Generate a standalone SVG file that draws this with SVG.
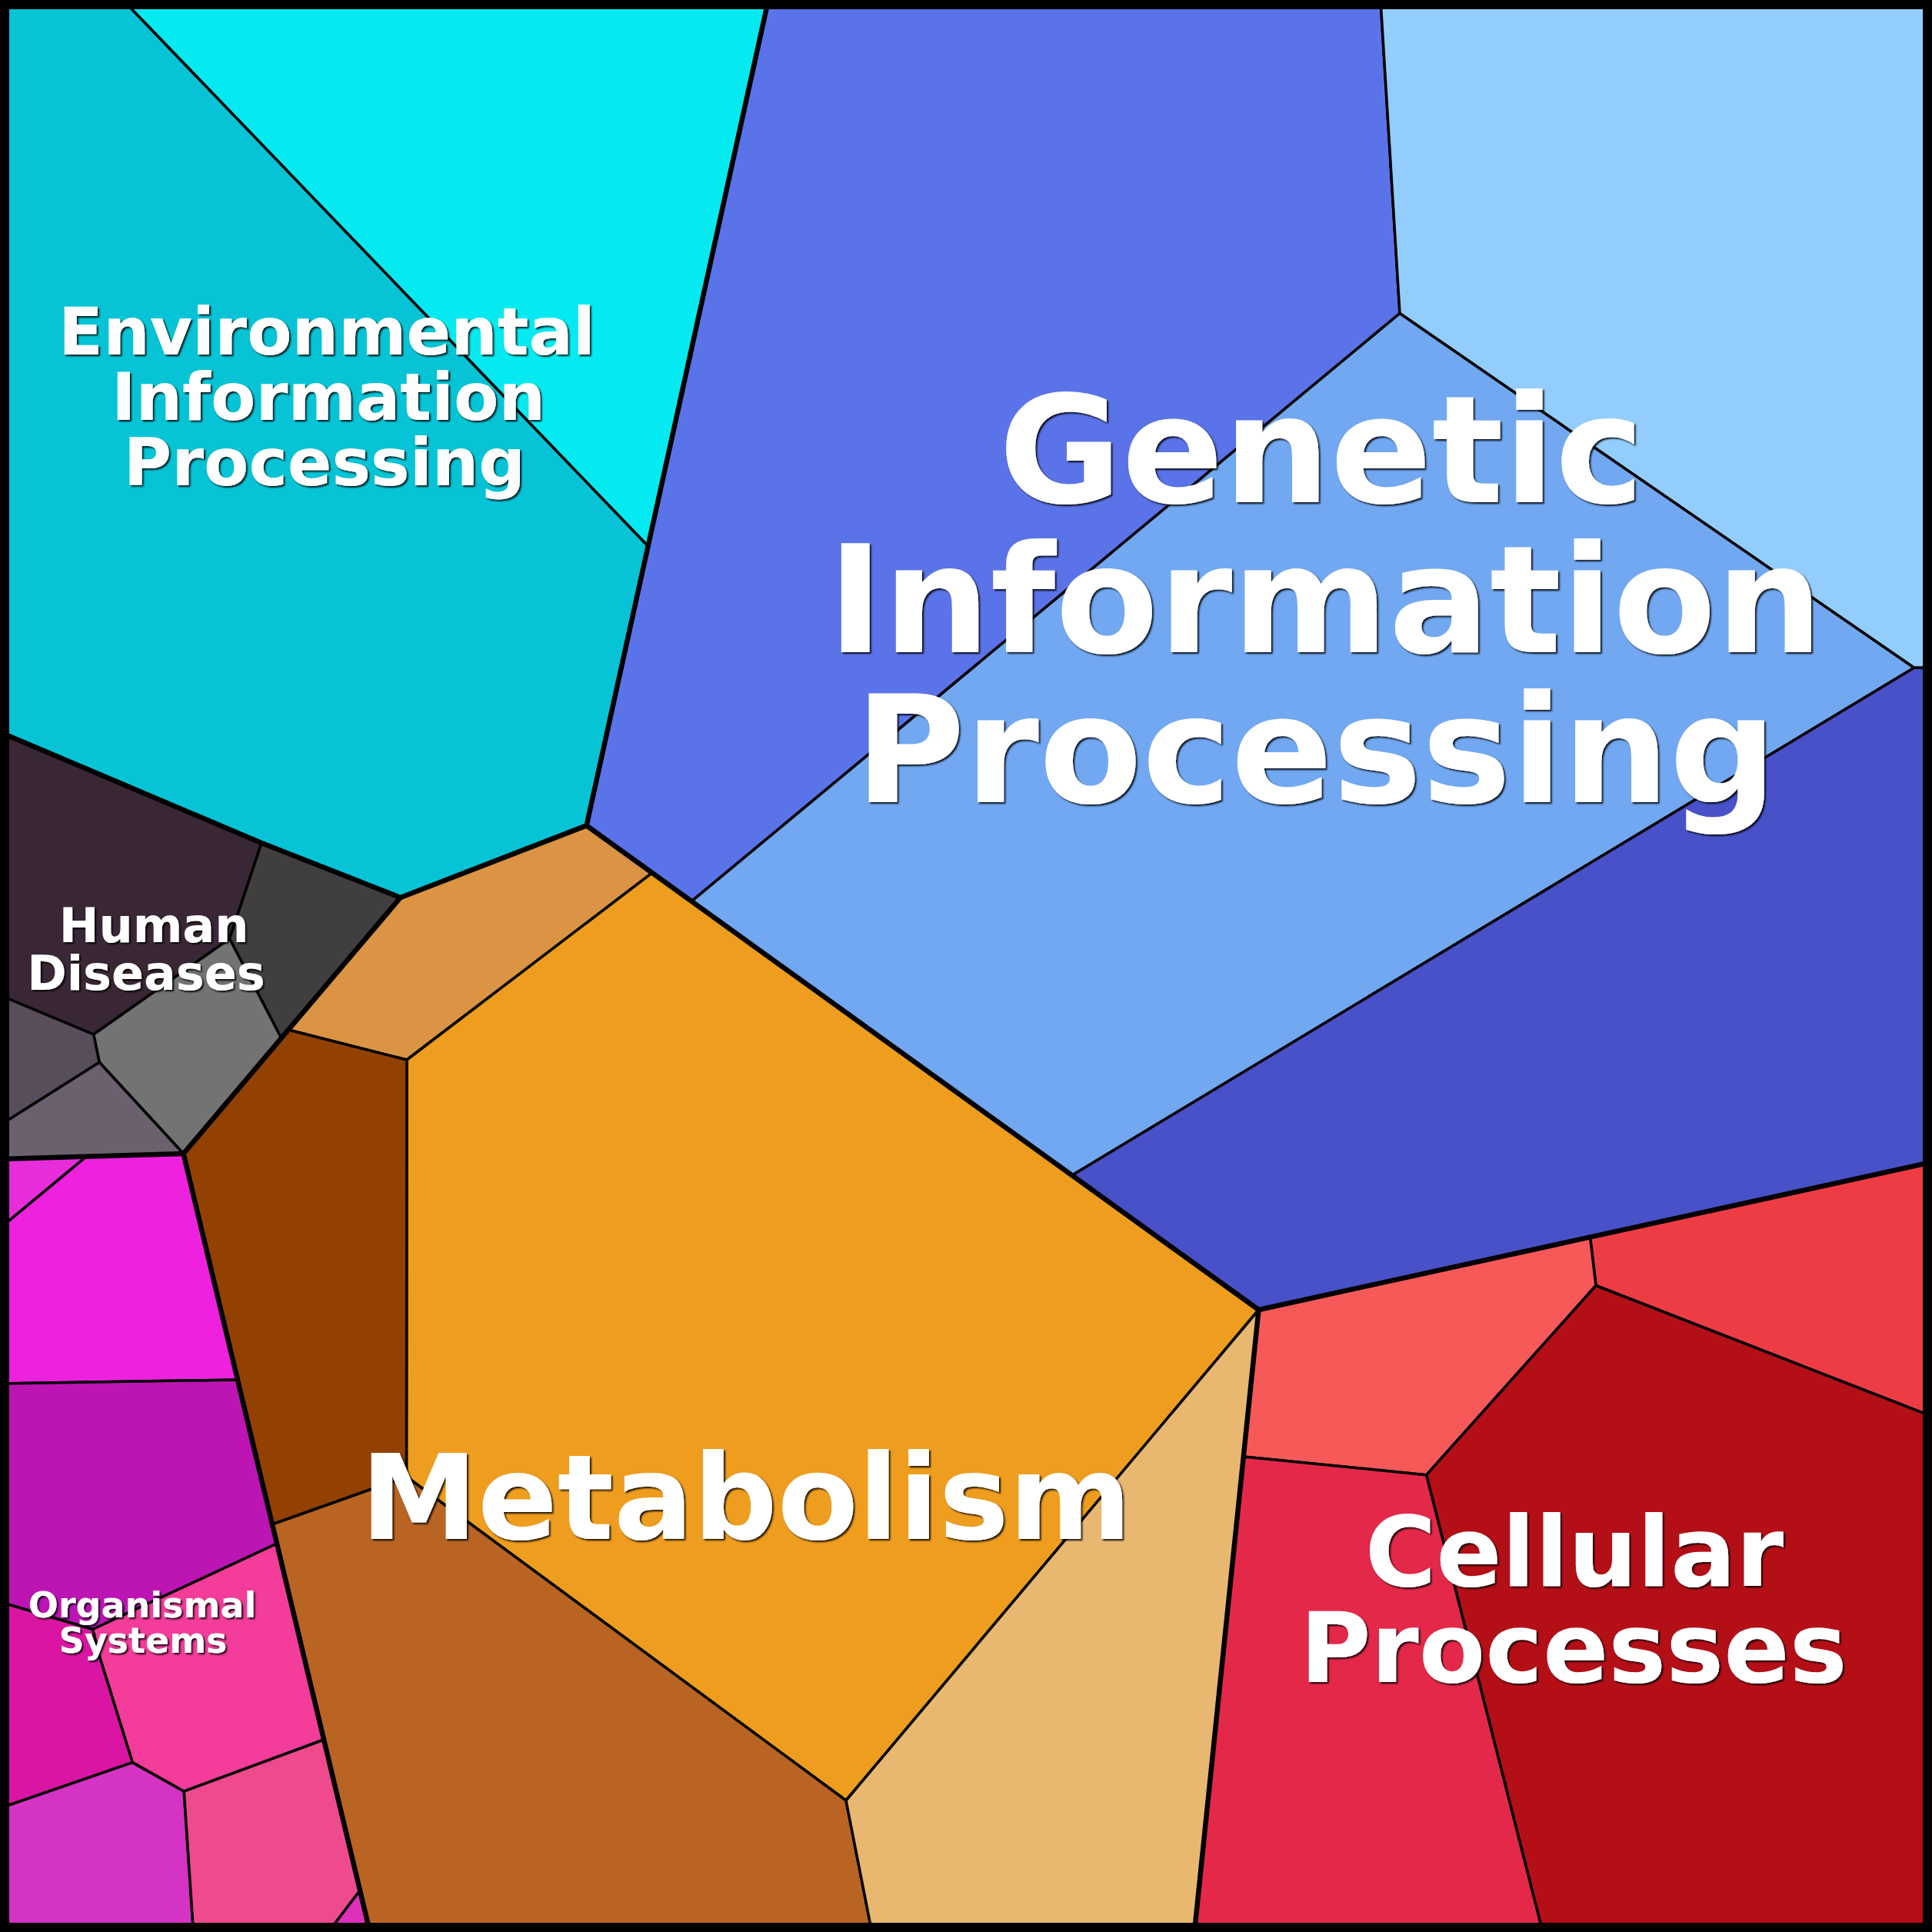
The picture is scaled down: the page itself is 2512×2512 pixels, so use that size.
<svg xmlns="http://www.w3.org/2000/svg" width="2512" height="2512" viewBox="0 0 2512 2512">
<defs>
<style>
.cell{stroke:#000;stroke-width:3.5;stroke-linejoin:round}
.thick{fill:none;stroke:#000;stroke-width:6.5;stroke-linejoin:round;stroke-linecap:round}
.lbl{font-family:"DejaVu Sans","Liberation Sans",sans-serif;font-weight:bold;fill:#fff;text-anchor:middle;filter:url(#sh)}
</style>
<filter id="sh" x="-5%" y="-10%" width="110%" height="120%">
<feDropShadow dx="2" dy="2" stdDeviation="0.8" flood-color="#000" flood-opacity="0.9"/>
</filter>
</defs>
<g id="environmental">
<polygon class="cell" fill="#06C4D5" points="0,0 160,0 842.6,710 762.6,1073.4 520.7,1167 340,1096 0,952"/>
<polygon class="cell" fill="#05EAF0" points="160,0 999,0 842.6,710"/>
</g>
<g id="genetic">
<polygon class="cell" fill="#5A73E8" points="999,0 1795,0 1820,407.5 899.5,1171.6 762.6,1073.4"/>
<polygon class="cell" fill="#92CDFD" points="1795,0 2512,0 2512,868 2488.7,868.3 1820,407.5"/>
<polygon class="cell" fill="#71A8F1" points="1820,407.5 2488.7,868.3 1393.8,1528.2 899.5,1171.6"/>
<polygon class="cell" fill="#4851C8" points="2488.7,868.3 2512,868 2512,1511 1636.5,1703 1393.8,1528.2"/>
</g>
<g id="metabolism">
<polygon class="cell" fill="#DA9443" points="762.6,1073.4 848,1134.9 529,1378 375,1339 520.7,1167"/>
<polygon class="cell" fill="#EE9D1E" points="848,1134.9 1636.5,1703 1100,2341 528.5,1920 529,1378"/>
<polygon class="cell" fill="#924103" points="375,1339 529,1378 528.5,1920 354,1982 238.5,1500"/>
<polygon class="cell" fill="#B96423" points="354,1982 528.5,1920 1100,2341 1133.6,2512 481,2512"/>
<polygon class="cell" fill="#E8B870" points="1636.5,1703 1553,2512 1133.6,2512 1100,2341"/>
</g>
<g id="cellular">
<polygon class="cell" fill="#EE3C45" points="2067.5,1608.5 2512,1511 2512,1841.7 2075,1671.5"/>
<polygon class="cell" fill="#F75959" points="1636.5,1703 2067.5,1608.5 2075,1671.5 1854.7,1917.7 1617,1894"/>
<polygon class="cell" fill="#E4284A" points="1617,1894 1854.7,1917.7 2006,2512 1553,2512"/>
<polygon class="cell" fill="#B40F17" points="2075,1671.5 2512,1841.7 2512,2512 2006,2512 1854.7,1917.7"/>
</g>
<g id="human-diseases">
<polygon class="cell" fill="#392735" points="0,952 340,1096 298.5,1220.5 121.7,1345 0,1294"/>
<polygon class="cell" fill="#403E3F" points="340,1096 520.7,1167 365.7,1349.7 298.5,1220.5"/>
<polygon class="cell" fill="#737373" points="298.5,1220.5 365.7,1349.7 238.5,1500 129.2,1381.3 121.7,1345"/>
<polygon class="cell" fill="#584D5A" points="0,1294 121.7,1345 129.2,1381.3 0,1463"/>
<polygon class="cell" fill="#6B616E" points="0,1463 129.2,1381.3 238.5,1500 0,1507"/>
</g>
<g id="organismal">
<polygon class="cell" fill="#E72DDA" points="0,1507 112,1504 0,1597"/>
<polygon class="cell" fill="#EE22DE" points="112,1504 238.5,1500 309,1794 0,1799 0,1597"/>
<polygon class="cell" fill="#BC15B4" points="0,1799 309,1794 360,2007 120.5,2118.5 0,2083"/>
<polygon class="cell" fill="#F43C9A" points="120.5,2118.5 360,2007 421,2262 239.2,2329.2 172.2,2291.6 130.1,2156"/>
<polygon class="cell" fill="#DB15A3" points="0,2083 120.5,2118.5 130.1,2156 172.2,2291.6 0,2351"/>
<polygon class="cell" fill="#D433C4" points="0,2351 172.2,2291.6 239.2,2329.2 251.5,2512 0,2512"/>
<polygon class="cell" fill="#F04A8F" points="239.2,2329.2 421,2262 468,2458 427,2512 251.5,2512"/>
<polygon class="cell" fill="#DE30B9" points="468,2458 481,2512 427,2512"/>
</g>
<g id="borders">
<path class="thick" d="M999,0 L762.6,1073.4"/>
<path class="thick" d="M0,952 L340,1096 L520.7,1167 L762.6,1073.4 L1636.5,1703 L2512,1511"/>
<path class="thick" d="M520.7,1167 L238.5,1500 L481,2512"/>
<path class="thick" d="M0,1507 L238.5,1500"/>
<path class="thick" d="M1636.5,1703 L1553,2512"/>
<rect x="6" y="6" width="2500" height="2500" fill="none" stroke="#000" stroke-width="12"/>
</g>
<g id="labels">
<text class="lbl" font-size="85"><tspan x="425" y="461">Environmental</tspan><tspan x="427" y="546">Information</tspan><tspan x="422" y="631">Processing</tspan></text>
<text class="lbl" font-size="195"><tspan x="1718" y="653">Genetic</tspan><tspan x="1723" y="848">Information</tspan><tspan x="1711" y="1043">Processing</tspan></text>
<text class="lbl" font-size="153" x="970" y="2001">Metabolism</text>
<text class="lbl" font-size="126"><tspan x="2047" y="2062">Cellular</tspan><tspan x="2046" y="2187">Processes</tspan></text>
<text class="lbl" font-size="62"><tspan x="200" y="1225">Human</tspan><tspan x="190" y="1287">Diseases</tspan></text>
<text class="lbl" font-size="46"><tspan x="185" y="2103">Organismal</tspan><tspan x="186" y="2149">Systems</tspan></text>
</g>
</svg>
